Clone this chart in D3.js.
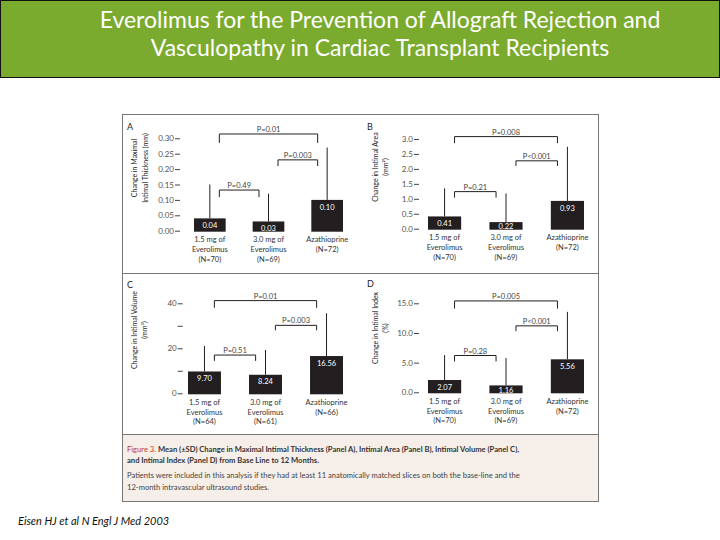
<!DOCTYPE html>
<html>
<head>
<meta charset="utf-8">
<script src="https://cdn.jsdelivr.net/npm/d3@7"></script>
<style>
  body { margin: 0; background: #fff; }
  svg { display: block; }
</style>
</head>
<body>
<div id="chart"></div>
<script>
// ---- data ----
var titleLines = ['Everolimus for the Prevention of Allograft Rejection and',
                  'Vasculopathy in Cardiac Transplant Recipients']
var footer = 'Eisen HJ et al N Engl J Med 2003'

var groupLines = [['1.5 mg of', 'Everolimus'], ['3.0 mg of', 'Everolimus'], ['Azathioprine']]

// panel A: maximal intimal thickness
var meanA = [0.04, 0.03, 0.10]
var sdA = [0.11, 0.09, 0.17]
var valueLabelsA = ['0.04', '0.03', '0.10']
var nA = ['(N=70)', '(N=69)', '(N=72)']
var tickValuesA = [0, 0.05, 0.10, 0.15, 0.20, 0.25, 0.30]
var tickLabelsA = ['0.00', '0.05', '0.10', '0.15', '0.20', '0.25', '0.30']
var yTitleA = ['Change in Maximal', 'Intimal Thickness (mm)']
// [from group, to group, bracket level, leg end, label]
var pValuesA = [[0, 2, 0.314, 0.285, 'P=0.01'], [1, 2, 0.23, 0.21, 'P=0.003'], [0, 1, 0.132, 0.109, 'P=0.49']]

// panel B: intimal area
var meanB = [0.41, 0.22, 0.93]
var sdB = [0.94, 0.96, 1.81]
var valueLabelsB = ['0.41', '0.22', '0.93']
var nB = ['(N=70)', '(N=69)', '(N=72)']
var tickValuesB = [0, 0.5, 1.0, 1.5, 2.0, 2.5, 3.0]
var tickLabelsB = ['0.0', '0.5', '1.0', '1.5', '2.0', '2.5', '3.0']
var yTitleB = ['Change in Intimal Area', '(mm²)']
var pValuesB = [[0, 2, 3.08, 2.86, 'P=0.008'], [1, 2, 2.27, 2.10, 'P<0.001'], [0, 1, 1.24, 1.04, 'P=0.21']]

// panel C: intimal volume
var meanC = [9.70, 8.24, 16.56]
var sdC = [11.3, 11.0, 19.0]
var valueLabelsC = ['9.70', '8.24', '16.56']
var nC = ['(N=64)', '(N=61)', '(N=66)']
var tickValuesC = [0, 10, 20, 30, 40]
var tickLabelsC = ['0', '', '20', '', '40']
var yTitleC = ['Change in Intimal Volume', '(mm³)']
var pValuesC = [[0, 2, 41.2, 38.0, 'P=0.01'], [1, 2, 30.2, 28.0, 'P=0.003'], [0, 1, 17.0, 14.4, 'P=0.51']]

// panel D: intimal index
var meanD = [2.07, 1.16, 5.56]
var sdD = [4.2, 4.6, 8.0]
var valueLabelsD = ['2.07', '1.16', '5.56']
var nD = ['(N=70)', '(N=69)', '(N=72)']
var tickValuesD = [0, 5, 10, 15]
var tickLabelsD = ['0.0', '5.0', '10.0', '15.0']
var yTitleD = ['Change in Intimal Index', '(%)']
var pValuesD = [[0, 2, 15.4, 14.1, 'P=0.005'], [1, 2, 11.2, 10.3, 'P<0.001'], [0, 1, 6.2, 5.2, 'P=0.28']]

var captionBold = 'Mean (±SD) Change in Maximal Intimal Thickness (Panel A), Intimal Area (Panel B), Intimal Volume (Panel C),'
var captionBold2 = 'and Intimal Index (Panel D) from Base Line to 12 Months.'
var captionText = ['Patients were included in this analysis if they had at least 11 anatomically matched slices on both the base-line and the',
                   '12-month intravascular ultrasound studies.']

// ---- layout ----
var width = 720
var height = 540
var font = 'Lato, "Open Sans", sans-serif'
var ink = '#231f20'

var panels = [
  {letter: 'A', mean: meanA, sd: sdA, values: valueLabelsA, n: nA, ticks: tickValuesA, tickLabels: tickLabelsA,
   title: yTitleA, pv: pValuesA, yMax: 0.30, axisX: 180, y0: 230.7, yTop: 138.3, xRange: [194, 343],
   letterPos: [127, 127], titleX: [135, 146], titleY: 168},
  {letter: 'B', mean: meanB, sd: sdB, values: valueLabelsB, n: nB, ticks: tickValuesB, tickLabels: tickLabelsB,
   title: yTitleB, pv: pValuesB, yMax: 3.0, axisX: 419, y0: 228.7, yTop: 139, xRange: [428, 584],
   letterPos: [367, 127], titleX: [376, 386], titleY: 167},
  {letter: 'C', mean: meanC, sd: sdC, values: valueLabelsC, n: nC, ticks: tickValuesC, tickLabels: tickLabelsC,
   title: yTitleC, pv: pValuesC, yMax: 40, axisX: 182.7, y0: 393.3, yTop: 303.3, xRange: [188, 343],
   letterPos: [127, 285], titleX: [135, 145], titleY: 330},
  {letter: 'D', mean: meanD, sd: sdD, values: valueLabelsD, n: nD, ticks: tickValuesD, tickLabels: tickLabelsD,
   title: yTitleD, pv: pValuesD, yMax: 15, axisX: 419, y0: 392.3, yTop: 303.3, xRange: [428, 584],
   letterPos: [367, 284], titleX: [376, 386], titleY: 328}
]

var svg = d3.select('#chart')
  .append('svg')
  .attr('width', width)
  .attr('height', height)
  .style('font-family', font)

// title banner
svg.append('rect')
  .attr('x', 0.5).attr('y', 0.5)
  .attr('width', width - 1).attr('height', 77)
  .attr('fill', '#7bab2e')
  .attr('stroke', '#111')

svg.selectAll('.title')
  .data(titleLines)
  .enter().append('text')
  .attr('class', 'title')
  .attr('x', 380)
  .attr('y', (d, i) => 20 + i * 28)
  .attr('dy', '0.35em')
  .attr('text-anchor', 'middle')
  .attr('fill', '#fff')
  .style('font-size', '23px')
  .text(d => d)

// figure frame + caption box
svg.append('rect')
  .attr('x', 122.5).attr('y', 434.5)
  .attr('width', 476).attr('height', 67)
  .attr('fill', '#f6eee8')
svg.append('rect')
  .attr('x', 122.5).attr('y', 114.5)
  .attr('width', 476).attr('height', 387)
  .attr('fill', 'none')
  .attr('stroke', '#777')
svg.selectAll('.divider')
  .data([273.5, 434.5])
  .enter().append('line')
  .attr('class', 'divider')
  .attr('x1', 122.5).attr('x2', 598.5)
  .attr('y1', d => d).attr('y2', d => d)
  .attr('stroke', '#777')

panels.forEach(drawPanel)

function drawPanel(p) {
  var g = svg.append('g')

  var yScale = d3.scaleLinear().domain([0, p.yMax]).range([p.y0, p.yTop])
  var xScale = d3.scaleBand().domain(d3.range(p.mean.length)).range(p.xRange)
    .paddingInner(0.46).paddingOuter(0)
  var bw = xScale.bandwidth()
  var cx = i => xScale(i) + bw / 2

  // y axis, no domain line
  var yAxis = d3.axisLeft(yScale)
    .tickValues(p.ticks)
    .tickFormat((d, i) => p.tickLabels[i])
    .tickSize(5)
    .tickPadding(1)
  var ax = g.append('g')
    .attr('class', 'axis')
    .attr('transform', 'translate(' + p.axisX + ',0)')
    .call(yAxis)
  ax.select('.domain').remove()
  ax.selectAll('line').attr('stroke', '#444')
  ax.selectAll('text').attr('fill', '#555').style('font-size', '8px').style('font-family', font)

  // error bars (mean + SD)
  g.selectAll('.err')
    .data(p.mean)
    .enter().append('line')
    .attr('x1', (d, i) => cx(i)).attr('x2', (d, i) => cx(i))
    .attr('y1', d => yScale(d))
    .attr('y2', (d, i) => yScale(d + p.sd[i]))
    .attr('stroke', ink)
    .attr('stroke-width', 1)

  // bars
  g.selectAll('.bar')
    .data(p.mean)
    .enter().append('rect')
    .attr('x', (d, i) => xScale(i))
    .attr('y', d => yScale(d))
    .attr('width', bw)
    .attr('height', d => p.y0 - yScale(d) + 1)
    .attr('fill', ink)

  g.selectAll('.val')
    .data(p.values)
    .enter().append('text')
    .attr('x', (d, i) => cx(i))
    .attr('y', (d, i) => Math.min(yScale(p.mean[i]) + 7, p.y0 - 2))
    .attr('dy', '0.35em')
    .attr('text-anchor', 'middle')
    .attr('fill', '#fff')
    .style('font-size', '7.5px')
    .text(d => d)

  // group labels
  p.mean.forEach(function(d, i) {
    var lines = groupLines[i].concat([p.n[i]])
    g.append('text')
      .attr('text-anchor', 'middle')
      .attr('fill', '#333')
      .style('font-size', '7.5px')
      .selectAll('tspan')
      .data(lines)
      .enter().append('tspan')
      .attr('x', cx(i))
      .attr('y', (t, k) => p.y0 + 11.5 + k * 9.8)
      .text(t => t)
  })

  // significance brackets
  var off = bw * 0.3
  g.selectAll('.bracket')
    .data(p.pv)
    .enter().append('path')
    .attr('d', d => 'M' + (cx(d[0]) + off) + ',' + yScale(d[3]) +
                    'V' + yScale(d[2]) + 'H' + (cx(d[1]) - off) + 'V' + yScale(d[3]))
    .attr('fill', 'none')
    .attr('stroke', ink)
    .attr('stroke-width', 1)

  g.selectAll('.plabel')
    .data(p.pv)
    .enter().append('text')
    .attr('x', d => (cx(d[0]) + cx(d[1])) / 2)
    .attr('y', d => yScale(d[2]) - 2)
    .attr('text-anchor', 'middle')
    .attr('fill', '#444')
    .style('font-size', '7.5px')
    .text(d => d[4])

  // y title, two rotated lines
  g.selectAll('.ytitle')
    .data(p.title)
    .enter().append('text')
    .attr('transform', (d, i) => 'translate(' + p.titleX[i] + ',' + p.titleY + ') rotate(-90)')
    .attr('dy', '0.35em')
    .attr('text-anchor', 'middle')
    .attr('fill', '#222')
    .style('font-size', '7px')
    .text(d => d)

  g.append('text')
    .attr('x', p.letterPos[0])
    .attr('y', p.letterPos[1])
    .attr('dy', '0.35em')
    .attr('fill', '#222')
    .style('font-size', '9px')
    .text(p.letter)
}

// caption
var cap = svg.append('g').style('font-size', '7.6px')
var line1 = cap.append('text').attr('x', 127).attr('y', 452).attr('fill', '#333').style('font-weight', 'bold')
line1.append('tspan').attr('fill', '#c0392b').style('font-weight', 'normal').text('Figure 3. ')
line1.append('tspan').text(captionBold)
cap.append('text').attr('x', 127).attr('y', 463).attr('fill', '#333').style('font-weight', 'bold').text(captionBold2)
cap.selectAll('.captext')
  .data(captionText)
  .enter().append('text')
  .attr('x', 127)
  .attr('y', (d, i) => 478 + i * 12)
  .attr('fill', '#444')
  .text(d => d)

svg.append('text')
  .attr('x', 18)
  .attr('y', 525)
  .attr('fill', '#111')
  .style('font-size', '11px')
  .style('font-style', 'italic')
  .text(footer)
</script>
</body>
</html>
